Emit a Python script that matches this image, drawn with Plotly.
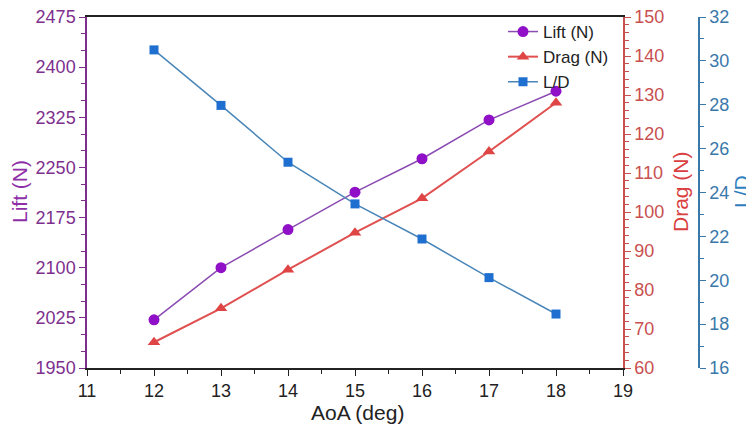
import plotly.graph_objects as go

aoa = [12, 13, 14, 15, 16, 17, 18]
lift = [2022, 2100, 2157, 2213, 2263, 2321, 2364]
drag = [66.6, 75.3, 85.2, 94.7, 103.5, 115.5, 128.0]
ld = [30.5, 27.97, 25.38, 23.48, 21.88, 20.12, 18.46]

FONT = "Liberation Sans, Arial, sans-serif"
PURPLE_AX = "#7E2F8E"
RED_AX = "#C8504F"
BLUE_AX = "#3A78AA"

fig = go.Figure()
fig.add_trace(go.Scatter(x=aoa, y=lift, name="Lift (N)", mode="lines+markers",
                         line=dict(color="#8A4BB2", width=1.5),
                         marker=dict(symbol="circle", size=11, color="#9010C8"),
                         yaxis="y"))
fig.add_trace(go.Scatter(x=aoa, y=drag, name="Drag (N)", mode="lines+markers",
                         line=dict(color="#E05050", width=2),
                         marker=dict(symbol="triangle-up", size=11, color="#E04545"),
                         yaxis="y2"))
fig.add_trace(go.Scatter(x=aoa, y=ld, name="L/D", mode="lines+markers",
                         line=dict(color="#4A86B8", width=1.5),
                         marker=dict(symbol="square", size=9, color="#1E6FCF"),
                         yaxis="y3"))

# page body has an 8px margin: figure coords = screen coords - 8
OFF = 8
W, H = 754 - OFF, 425 - OFF
ml, mr, mt, mb = 87 - OFF, 0, 17 - OFF, H - (368 - OFF)
pw = W - ml - mr
ph = H - mt - mb
xend = (623 - 87) / pw
ld_pos = (699 - 87) / pw


def px(sx):
    return (sx - OFF - ml) / pw


def py(sy):
    return 1 - (sy - OFF - mt) / ph


fig.update_layout(
    width=W, height=H,
    margin=dict(l=ml, r=mr, t=mt, b=mb, autoexpand=False),
    plot_bgcolor="white", paper_bgcolor="white",
    font=dict(family=FONT, size=18, color="#222"),
    showlegend=True,
    legend=dict(x=px(503), y=py(14), xanchor="left", yanchor="top",
                bgcolor="rgba(0,0,0,0)", font=dict(size=17, color="#222"),
                tracegroupgap=0),
    xaxis=dict(domain=[0, xend], range=[11, 19], dtick=1, showgrid=False, zeroline=False,
               automargin=False, ticklabeloverflow="allow",
               showline=True, linecolor="#222", linewidth=1.5, mirror=True,
               ticks="outside", ticklen=6, tickcolor="#222",
               minor=dict(ticks="outside", dtick=0.5, ticklen=4, tickcolor="#222"),
               tickfont=dict(size=18, color="#222")),
    yaxis=dict(range=[1950, 2475], dtick=75, tick0=1950, showgrid=False, zeroline=False,
               automargin=False, ticklabeloverflow="allow",
               showline=True, linecolor=PURPLE_AX, linewidth=1.5,
               ticks="outside", ticklen=6, tickcolor=PURPLE_AX,
               minor=dict(ticks="outside", dtick=25, ticklen=4, tickcolor=PURPLE_AX),
               tickfont=dict(size=18, color=PURPLE_AX)),
    yaxis2=dict(range=[60, 150], dtick=10, overlaying="y", side="right", anchor="x",
                automargin=False, ticklabeloverflow="allow",
                showgrid=False, zeroline=False,
                showline=True, linecolor=RED_AX, linewidth=1.5,
                ticks="outside", ticklen=6, tickcolor=RED_AX,
                minor=dict(ticks="outside", dtick=2, ticklen=4, tickcolor=RED_AX),
                tickfont=dict(size=18, color=RED_AX)),
    yaxis3=dict(range=[16, 32], dtick=2, overlaying="y", side="right", anchor="free",
                automargin=False, ticklabeloverflow="allow",
                position=ld_pos, showgrid=False, zeroline=False,
                showline=True, linecolor=BLUE_AX, linewidth=1.5,
                ticks="outside", ticklen=6, tickcolor=BLUE_AX,
                minor=dict(ticks="outside", dtick=1, ticklen=4, tickcolor=BLUE_AX),
                tickfont=dict(size=18, color=BLUE_AX)),
)

titles = [
    ("AoA (deg)", 357, 412, 0, "#222"),
    ("Lift (N)", 19, 192, -90, "#8E2FA8"),
    ("Drag (N)", 680, 192, -90, "#D9403F"),
    ("L/D", 741, 192, -90, "#2F7FC0"),
]
for text, sx, sy, ang, col in titles:
    fig.add_annotation(text=text, xref="paper", yref="paper", x=px(sx), y=py(sy),
                       xanchor="center", yanchor="middle", showarrow=False,
                       textangle=ang, font=dict(size=21, color=col, family=FONT))

fig.write_html("out.html")
